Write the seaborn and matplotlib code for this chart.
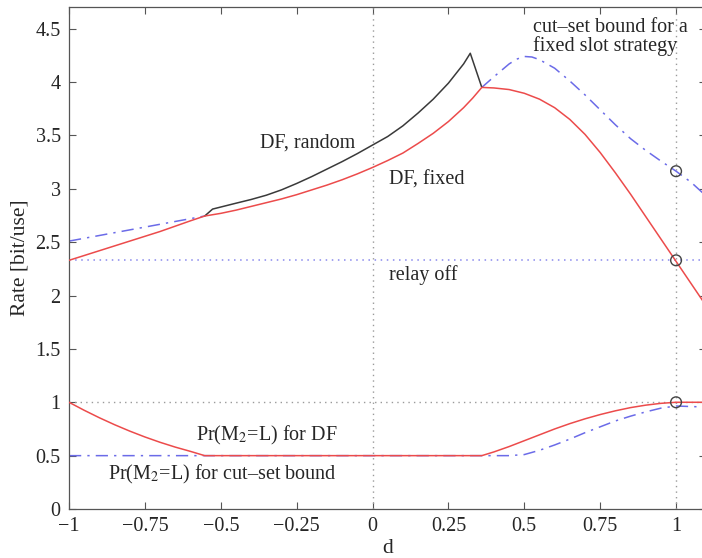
import numpy as np
import pandas as pd
import matplotlib
matplotlib.use("Agg")
import matplotlib.pyplot as plt
import seaborn as sns

# Achievable rates versus relay position d
df_fixed_d = [-1.0, -0.95, -0.9, -0.85, -0.8, -0.75, -0.7, -0.65, -0.6, -0.553,
              -0.5, -0.45, -0.4, -0.35, -0.3, -0.25, -0.2, -0.15, -0.1, -0.05, 0.0,
              0.05, 0.1, 0.15, 0.2, 0.25, 0.3, 0.33, 0.36,
              0.4, 0.45, 0.5, 0.55, 0.6, 0.65, 0.7, 0.75, 0.8, 0.85, 0.9, 0.95,
              1.0, 1.05, 1.1]
df_fixed_rate = [2.33, 2.375, 2.42, 2.465, 2.51, 2.555, 2.60, 2.65, 2.70, 2.745,
                 2.77, 2.80, 2.835, 2.87, 2.905, 2.945, 2.99, 3.035, 3.085, 3.14, 3.20,
                 3.265, 3.335, 3.425, 3.52, 3.63, 3.76, 3.85, 3.95,
                 3.945, 3.93, 3.895, 3.84, 3.76, 3.65, 3.51, 3.34, 3.15, 2.95, 2.74, 2.53,
                 2.32, 2.11, 1.90]

df_random_d = [-0.553, -0.527, -0.45, -0.4, -0.35, -0.3, -0.25, -0.2, -0.15, -0.1,
               -0.05, 0.0, 0.05, 0.1, 0.15, 0.2, 0.25, 0.3, 0.322, 0.36]
df_random_rate = [2.745, 2.81, 2.865, 2.90, 2.94, 2.99, 3.05, 3.115, 3.185, 3.255,
                  3.33, 3.41, 3.49, 3.59, 3.71, 3.84, 3.99, 4.17, 4.27, 3.95]

cutset_left_d = [-1.0, -0.553]
cutset_left_rate = [2.51, 2.745]
cutset_right_d = [0.36, 0.4, 0.45, 0.475, 0.5, 0.525, 0.55, 0.6, 0.65, 0.7, 0.75, 0.8,
                  0.85, 0.9, 0.95, 1.0, 1.05, 1.1]
cutset_right_rate = [3.95, 4.05, 4.17, 4.215, 4.24, 4.235, 4.21, 4.13, 4.01, 3.88, 3.74,
                     3.60, 3.47, 3.36, 3.26, 3.165, 3.06, 2.93]

relay_off_rate = 2.33

# Probability that the relay listens in slot 2
pr_df_d = [-1.0, -0.95, -0.9, -0.85, -0.8, -0.75, -0.7, -0.65, -0.6, -0.553, 0.36, 0.4,
           0.45, 0.5, 0.55, 0.6, 0.65, 0.7, 0.75, 0.8, 0.85, 0.9, 0.95, 1.0, 1.1]
pr_df = [1.0, 0.925, 0.855, 0.79, 0.73, 0.675, 0.625, 0.58, 0.54, 0.5, 0.5, 0.535,
         0.585, 0.64, 0.695, 0.75, 0.80, 0.845, 0.885, 0.92, 0.95, 0.973, 0.99, 1.0, 1.0]

pr_cs_d = [-1.0, 0.45, 0.5, 0.55, 0.6, 0.65, 0.7, 0.75, 0.8, 0.85, 0.9, 0.95, 1.0,
           1.05, 1.1]
pr_cs = [0.5, 0.5, 0.51, 0.55, 0.60, 0.655, 0.715, 0.77, 0.825, 0.87, 0.91, 0.945,
         0.965, 0.96, 0.955]

marked_d = [1.0, 1.0, 1.0]
marked_val = [3.165, 2.33, 1.0]

x_ticks = [-1, -0.75, -0.5, -0.25, 0, 0.25, 0.5, 0.75, 1]
x_tick_labels = ["\u22121", "\u22120.75", "\u22120.5", "\u22120.25", "0", "0.25", "0.5",
                 "0.75", "1"]
y_ticks = [0, 0.5, 1, 1.5, 2, 2.5, 3, 3.5, 4, 4.5]
y_tick_labels = ["0", "0.5", "1", "1.5", "2", "2.5", "3", "3.5", "4", "4.5"]

sns.set_style("ticks")
plt.rcParams["font.family"] = ["Liberation Serif", "DejaVu Serif"]
plt.rcParams["mathtext.fontset"] = "stix"

RED = "#ec4b4b"
BLUE = "#6b6be8"
BLACK = "#3a3a3a"
GREY = "#9a9a9a"
FS = 14.5

fig = plt.figure(figsize=(7.02, 5.58), dpi=100)
ax = fig.add_axes([0.0983, 0.0878, 0.908, 0.899])

XMIN, XMAX = -1.0, 1.1

# reference lines
ax.axvline(0, color=GREY, lw=1.0, ls=(0, (1, 3)), zorder=1)
ax.axvline(1, color=GREY, lw=1.0, ls=(0, (1, 3)), zorder=1)
sns.lineplot(x=[XMIN, XMAX], y=[1.0, 1.0], ax=ax, color=GREY, lw=1.0,
             linestyle=(0, (1, 3)), zorder=1)
sns.lineplot(x=[XMIN, XMAX], y=[relay_off_rate, relay_off_rate], ax=ax, color=BLUE,
             lw=1.1, linestyle=(0, (1, 3)), alpha=0.8, zorder=1)

dashdot = (0, (8, 4, 1.5, 4))
lw = 1.1
sns.lineplot(x=cutset_left_d, y=cutset_left_rate, ax=ax, color=BLUE, lw=lw,
             linestyle=dashdot, sort=False, zorder=2)
sns.lineplot(x=cutset_right_d, y=cutset_right_rate, ax=ax, color=BLUE, lw=lw,
             linestyle=dashdot, sort=False, zorder=2)
sns.lineplot(x=pr_cs_d, y=pr_cs, ax=ax, color=BLUE, lw=lw, linestyle=dashdot,
             sort=False, zorder=2)
sns.lineplot(x=df_random_d, y=df_random_rate, ax=ax, color=BLACK, lw=lw, sort=False,
             zorder=3)
sns.lineplot(x=df_fixed_d, y=df_fixed_rate, ax=ax, color=RED, lw=lw, sort=False, zorder=4)
sns.lineplot(x=pr_df_d, y=pr_df, ax=ax, color=RED, lw=lw, sort=False, zorder=4)

sns.scatterplot(x=marked_d, y=marked_val, ax=ax, s=60, facecolor="none",
                edgecolor="#444444", linewidth=1.0, zorder=5)

# annotations
ax.text(-0.37, 3.43, "DF, random", fontsize=FS, va="center", ha="left")
ax.text(0.053, 3.08, "DF, fixed", fontsize=FS, va="center", ha="left")
ax.text(0.53, 4.42, "cut\u2013set bound for a\nfixed slot strategy", fontsize=FS,
        va="center", ha="left", linespacing=0.95)
ax.text(0.053, 2.19, "relay off", fontsize=FS, va="center", ha="left")
ax.text(-0.58, 0.69, "Pr(M$_2$=L) for DF", fontsize=FS, va="center", ha="left")
ax.text(-0.87, 0.32, "Pr(M$_2$=L) for cut\u2013set bound", fontsize=FS, va="center",
        ha="left")

ax.set_xlim(XMIN, XMAX)
ax.set_ylim(0, 4.7)
ax.set_xticks(x_ticks)
ax.set_xticklabels(x_tick_labels)
ax.set_yticks(y_ticks)
ax.set_yticklabels(y_tick_labels)
ax.tick_params(direction="in", length=5, width=0.8, top=True, right=True,
               labelsize=FS, color="#555555", pad=6)
for s in ax.spines.values():
    s.set_visible(True)
    s.set_color("#555555")
    s.set_linewidth(0.9)
ax.set_xlabel("d", fontsize=FS + 1, labelpad=2)
ax.set_ylabel("Rate [bit/use]", fontsize=FS + 1, labelpad=4)
ax.grid(False)

fig.savefig("out.png", dpi=100)
